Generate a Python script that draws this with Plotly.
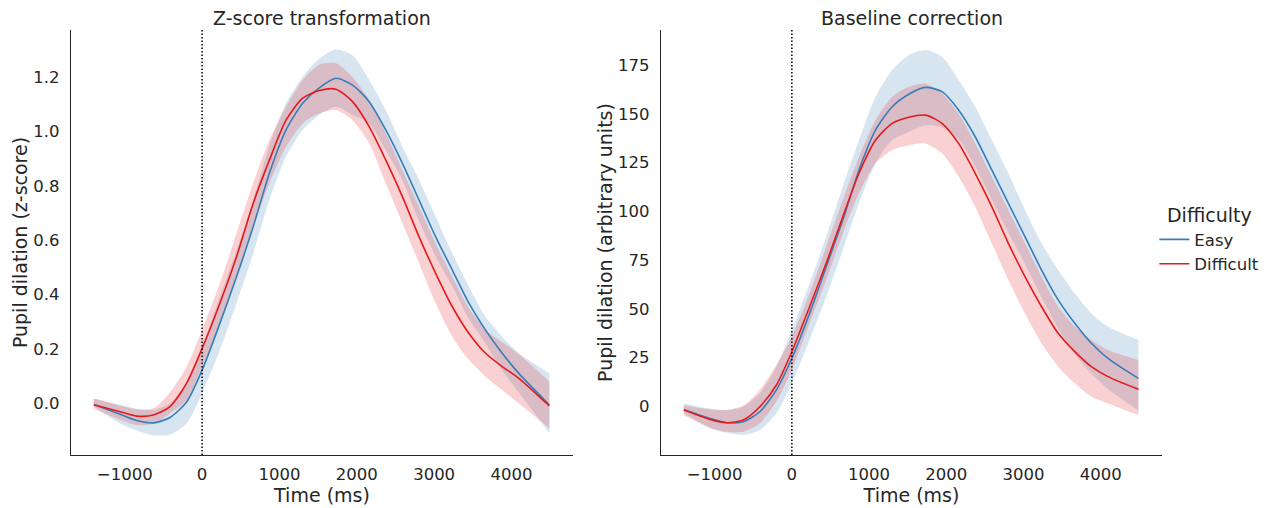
import plotly.graph_objects as go

# Time points (ms)
time_ms = [-1400, -1060, -845, -630, -415, -200, 0, 230, 445, 660, 870, 1085, 1300, 1515,
           1730, 1945, 2160, 2375, 2590, 2805, 3020, 3235, 3450, 3665, 3880, 4095, 4490]

# ---- Z-score transformation ----
z_easy_mean = [-0.004, -0.040, -0.063, -0.072, -0.052, 0.005, 0.122, 0.294, 0.465, 0.649, 0.846, 1.005, 1.103, 1.160,
               1.195, 1.170, 1.109, 1.005, 0.882, 0.747, 0.612, 0.490, 0.368, 0.269, 0.184, 0.110, -0.006]
z_easy_low = [-0.012, -0.074, -0.100, -0.117, -0.115, -0.074, 0.037, 0.196, 0.368, 0.551, 0.747, 0.907, 1.005, 1.060,
              1.090, 1.060, 1.030, 0.930, 0.820, 0.670, 0.540, 0.430, 0.310, 0.220, 0.120, 0.040, -0.110]
z_easy_high = [0.018, -0.005, -0.020, -0.025, 0.000, 0.075, 0.207, 0.392, 0.562, 0.747, 0.945, 1.103, 1.200, 1.268,
               1.301, 1.280, 1.189, 1.078, 0.943, 0.821, 0.686, 0.551, 0.429, 0.318, 0.245, 0.184, 0.110]

z_diff_mean = [-0.005, -0.031, -0.047, -0.043, -0.012, 0.074, 0.202, 0.368, 0.539, 0.735, 0.894, 1.041, 1.122, 1.150,
               1.155, 1.109, 1.017, 0.894, 0.760, 0.612, 0.478, 0.355, 0.257, 0.184, 0.135, 0.092, -0.010]
z_diff_low = [-0.020, -0.060, -0.080, -0.075, -0.037, 0.012, 0.135, 0.294, 0.465, 0.649, 0.809, 0.943, 1.029, 1.066,
              1.078, 1.041, 0.956, 0.809, 0.662, 0.515, 0.368, 0.245, 0.159, 0.098, 0.049, 0.000, -0.092]
z_diff_high = [0.018, -0.008, -0.022, -0.018, 0.040, 0.135, 0.270, 0.441, 0.625, 0.809, 0.968, 1.090, 1.189, 1.245,
               1.250, 1.200, 1.115, 0.993, 0.858, 0.723, 0.588, 0.465, 0.350, 0.270, 0.225, 0.180, 0.080]

# ---- Baseline correction ----
b_easy_mean = [-1.5, -6.1, -8.3, -7.8, -2.7, 8.5, 24.7, 47.7, 71.6, 95.5, 121.2, 141.7, 153.6, 160.0,
               163.5, 161.3, 151.9, 138.2, 121.2, 104.1, 87.0, 69.9, 54.6, 42.6, 32.4, 24.7, 14.4]
b_easy_low = [-3.5, -11.0, -13.5, -14.6, -12.0, -3.5, 11.9, 34.1, 56.2, 80.2, 104.1, 124.6, 136.5, 140.7,
              144.0, 143.0, 137.0, 123.0, 106.0, 89.0, 73.0, 56.0, 40.0, 27.0, 17.0, 9.0, -2.0]
b_easy_high = [1.6, -1.0, -1.8, -0.1, 6.8, 20.4, 39.2, 63.1, 87.0, 112.6, 136.5, 158.7, 172.4, 180.0,
               182.6, 179.2, 167.3, 153.6, 136.5, 119.5, 100.7, 83.6, 69.9, 58.0, 47.7, 40.9, 34.1]

b_diff_mean = [-1.8, -6.6, -8.3, -6.9, -0.1, 11.0, 28.1, 51.1, 73.4, 97.2, 119.5, 136.5, 145.1, 148.2,
               149.3, 145.1, 134.8, 119.5, 102.4, 83.6, 66.5, 51.1, 37.5, 28.1, 20.4, 15.3, 8.8]
b_diff_low = [-4.4, -11.0, -12.9, -12.9, -8.6, 2.5, 18.7, 42.6, 64.8, 88.7, 109.2, 124.6, 131.4, 133.9,
              134.8, 129.7, 117.8, 102.4, 83.6, 64.8, 47.7, 32.4, 20.4, 11.9, 5.0, 1.6, -4.4]
b_diff_high = [0.5, -1.5, -1.8, 0.5, 8.5, 21.3, 35.8, 58.0, 81.9, 105.8, 128.0, 146.8, 158.7, 163.8,
               165.5, 160.5, 150.2, 134.8, 117.8, 100.7, 83.6, 66.5, 51.1, 40.9, 34.1, 28.9, 23.8]

conditions = ["Easy", "Difficult"]
line_colors = {"Easy": "#377eb8", "Difficult": "#e41a1c"}
band_colors = {"Easy": "rgba(55,126,184,0.2)", "Difficult": "rgba(228,26,28,0.2)"}

panels = [
    ("x", "y", {"Easy": (z_easy_mean, z_easy_low, z_easy_high),
                "Difficult": (z_diff_mean, z_diff_low, z_diff_high)}),
    ("x2", "y2", {"Easy": (b_easy_mean, b_easy_low, b_easy_high),
                  "Difficult": (b_diff_mean, b_diff_low, b_diff_high)}),
]

fig = go.Figure()
for pi, (xa, ya, data) in enumerate(panels):
    for c in conditions:
        mean, low, high = data[c]
        fig.add_trace(go.Scatter(x=time_ms, y=low, xaxis=xa, yaxis=ya, mode="lines",
                                 line=dict(width=0, shape="spline", smoothing=0.7),
                                 showlegend=False, hoverinfo="skip"))
        fig.add_trace(go.Scatter(x=time_ms, y=high, xaxis=xa, yaxis=ya, mode="lines",
                                 line=dict(width=0, shape="spline", smoothing=0.7),
                                 fill="tonexty", fillcolor=band_colors[c],
                                 showlegend=False, hoverinfo="skip"))
    for c in conditions:
        mean = data[c][0]
        fig.add_trace(go.Scatter(x=time_ms, y=mean, xaxis=xa, yaxis=ya, mode="lines",
                                 name=c, legendgroup=c, showlegend=(pi == 1),
                                 line=dict(color=line_colors[c], width=1.6, shape="spline", smoothing=0.7)))

FONT = "DejaVu Sans"
TXT = "#262626"
tickfont = dict(family=FONT, size=16.5, color=TXT)
titlefont = dict(family=FONT, size=19, color=TXT)

def xaxis(domain, anchor):
    return dict(domain=domain, anchor=anchor, range=[-1695, 4795], tickvals=[-1000, 0, 1000, 2000, 3000, 4000],
                showgrid=False, zeroline=False, showline=True, linecolor=TXT, linewidth=1.25,
                ticks="", tickfont=tickfont, ticklabelstandoff=4, automargin=False,
                title=dict(text="Time (ms)", font=titlefont, standoff=4))

def yaxis(rng, tickvals, fmt, title, anchor):
    return dict(domain=[0, 1], anchor=anchor, range=rng, tickvals=tickvals, tickformat=fmt,
                showgrid=False, zeroline=False, showline=True, linecolor=TXT, linewidth=1.25,
                ticks="", tickfont=tickfont, ticklabelstandoff=7, automargin=False,
                title=dict(text=title, font=titlefont, standoff=0))

fig.update_layout(
    width=1280, height=508,
    margin=dict(l=71, r=118, t=30, b=53, autoexpand=False),
    paper_bgcolor="white", plot_bgcolor="white",
    font=dict(family=FONT, color=TXT),
    xaxis=xaxis([0, 0.4601], "y"),
    xaxis2=xaxis([0.5408, 1.0], "y2"),
    yaxis=yaxis([-0.19, 1.3725], [0, 0.2, 0.4, 0.6, 0.8, 1.0, 1.2], ".1f",
                "Pupil dilation (z-score)", "x"),
    yaxis2=yaxis([-24.85, 192.9], [0, 25, 50, 75, 100, 125, 150, 175], "d",
                 "Pupil dilation (arbitrary units)", "x2"),
    showlegend=True,
    legend=dict(title=dict(text="Difficulty", font=titlefont, side="top center"),
                font=tickfont, x=0.993, xanchor="left", y=0.606, yanchor="top",
                itemwidth=30, bgcolor="rgba(0,0,0,0)", tracegroupgap=0),
    annotations=[
        dict(text="Z-score transformation", x=0.4601 / 2, y=1.028, xref="paper", yref="paper",
             xanchor="center", yanchor="middle", showarrow=False, font=titlefont),
        dict(text="Baseline correction", x=(0.5408 + 1.0) / 2, y=1.028, xref="paper", yref="paper",
             xanchor="center", yanchor="middle", showarrow=False, font=titlefont),
    ],
    shapes=[
        dict(type="line", xref="x", yref="y domain", x0=0, x1=0, y0=0, y1=1,
             line=dict(color="black", width=1.5, dash="1.5px,2px")),
        dict(type="line", xref="x2", yref="y2 domain", x0=0, x1=0, y0=0, y1=1,
             line=dict(color="black", width=1.5, dash="1.5px,2px")),
    ],
)

fig.write_html("out.html", config={"displayModeBar": False},
               post_script="document.body.style.margin='0';document.body.style.overflow='hidden';")
